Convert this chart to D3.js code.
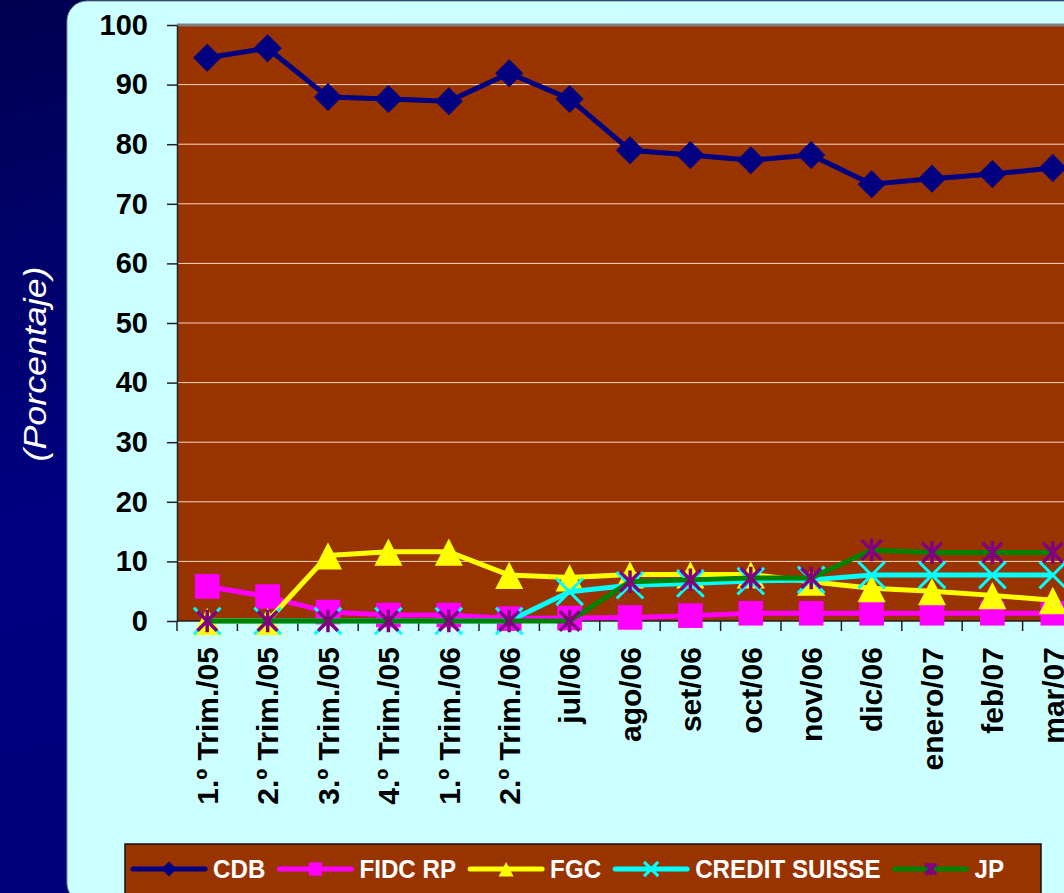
<!DOCTYPE html>
<meta charset="utf-8">
<script src="https://d3js.org/d3.v7.min.js"></script>
<style>
  body { margin: 0; overflow: hidden; }
</style>
<div id="viz"></div>
<script>

var categories = ["1.º Trim./05", "2.º Trim./05", "3.º Trim./05", "4.º Trim./05",
  "1.º Trim./06", "2.º Trim./06", "jul/06", "ago/06", "set/06", "oct/06",
  "nov/06", "dic/06", "enero/07", "feb/07", "mar/07"];

var cdb  = [94.5, 96.1, 87.9, 87.6, 87.2, 91.9, 87.6, 79.0, 78.2, 77.3, 78.2, 73.3, 74.2, 75.0, 76.0];
var fidc = [5.8, 4.1, 1.5, 1.0, 1.0, 0.4, 0.5, 0.6, 0.9, 1.3, 1.3, 1.3, 1.3, 1.3, 1.3];
var fgc  = [0, 0, 11.0, 11.6, 11.6, 7.7, 7.3, 7.8, 7.8, 7.8, 6.6, 5.5, 5.0, 4.3, 3.5];
var cs   = [0, 0, 0, 0, 0, 0, 4.9, 6.0, 6.3, 6.7, 6.9, 7.7, 7.7, 7.7, 7.7];
var jp   = [0, 0, 0, 0, 0, 0, 0, 6.6, 6.9, 7.2, 7.2, 11.9, 11.5, 11.5, 11.5];

var yTicks = [0, 10, 20, 30, 40, 50, 60, 70, 80, 90, 100];

var series = [
  {name: "CDB", values: cdb, line: "#000080", marker: "diamond", mcolor: "#000080"},
  {name: "FIDC RP", values: fidc, line: "#ff00ff", marker: "square", mcolor: "#ff00ff"},
  {name: "FGC", values: fgc, line: "#ffff00", marker: "triangle", mcolor: "#ffff00"},
  {name: "CREDIT SUISSE", values: cs, line: "#00ffff", marker: "cross", mcolor: "#00ffff"},
  {name: "JP", values: jp, line: "#008000", marker: "star", mcolor: "#800080"}
];

var W = 1064, H = 893;
var plot = {left: 177, top: 25, right: 1083, bottom: 621};

var svg = d3.select("#viz").append("svg")
  .attr("width", W).attr("height", H);

// navy background
var defs = svg.append("defs");
var bg = defs.append("linearGradient").attr("id", "navy")
  .attr("x1", 0).attr("y1", 0).attr("x2", 0.3).attr("y2", 1);
bg.append("stop").attr("offset", "0").attr("stop-color", "#000052");
bg.append("stop").attr("offset", "0.55").attr("stop-color", "#000082");
bg.append("stop").attr("offset", "1").attr("stop-color", "#000078");
svg.append("rect").attr("width", W).attr("height", H).style("fill", "url(#navy)");

// light panel
svg.append("rect")
  .attr("x", 67).attr("y", 1)
  .attr("width", 1100).attr("height", 902)
  .attr("rx", 20)
  .style("fill", "#ccffff")
  .style("stroke", "#6f9090")
  .style("stroke-width", 1);

svg.append("text")
  .attr("transform", "translate(46,364) rotate(-90)")
  .attr("text-anchor", "middle")
  .attr("textLength", 195)
  .attr("lengthAdjust", "spacingAndGlyphs")
  .style("font-family", "Liberation Sans, Arial, sans-serif")
  .style("font-style", "italic")
  .style("font-size", "31px")
  .style("fill", "white")
  .text("(Porcentaje)");

var x = d3.scaleBand().domain(categories).range([plot.left, plot.right]).padding(0);
var y = d3.scaleLinear().domain([0, 100]).range([plot.bottom, plot.top]);
var cx = function (c) { return x(c) + x.bandwidth() / 2; };

svg.append("rect")
  .attr("x", plot.left).attr("y", plot.top)
  .attr("width", plot.right - plot.left).attr("height", plot.bottom - plot.top)
  .style("fill", "#993300");

// gridlines
svg.append("g").selectAll("line")
  .data(yTicks.filter(function (d) { return d > 0 && d < 100; }))
  .enter().append("line")
    .attr("x1", plot.left).attr("x2", plot.right)
    .attr("y1", function (d) { return y(d); })
    .attr("y2", function (d) { return y(d); })
    .style("stroke", "#ffd8c0").style("stroke-width", 1);
svg.append("line")
  .attr("x1", plot.left).attr("x2", plot.right)
  .attr("y1", y(100)).attr("y2", y(100))
  .style("stroke", "#808080").style("stroke-width", 3);

// y axis
var yAxis = svg.append("g")
  .attr("transform", "translate(" + plot.left + ",0)")
  .call(d3.axisLeft(y).tickValues(yTicks).tickSize(10).tickPadding(19).tickSizeOuter(0));
yAxis.select(".domain").style("stroke", "#222").style("stroke-width", 1.5);
yAxis.selectAll(".tick line").style("stroke", "#222").style("stroke-width", 1.5);
yAxis.selectAll("text")
  .style("font-family", "Liberation Sans, Arial, sans-serif")
  .style("font-weight", "bold").style("font-size", "29px").style("fill", "#000");

// x axis line + ticks between categories
svg.append("line")
  .attr("x1", plot.left).attr("x2", plot.right)
  .attr("y1", plot.bottom).attr("y2", plot.bottom)
  .style("stroke", "#222").style("stroke-width", 1.5);
svg.append("g").selectAll("line")
  .data(categories)
  .enter().append("line")
    .attr("x1", function (d) { return x(d); })
    .attr("x2", function (d) { return x(d); })
    .attr("y1", plot.bottom).attr("y2", plot.bottom + 10)
    .style("stroke", "#222").style("stroke-width", 1.5);

svg.append("g").selectAll("text")
  .data(categories)
  .enter().append("text")
    .attr("transform", function (d) { return "translate(" + cx(d) + ",647) rotate(-90)"; })
    .attr("text-anchor", "end")
    .attr("dy", "0.36em")
    .style("font-family", "Liberation Sans, Arial, sans-serif")
    .style("font-weight", "bold").style("font-size", "30px").style("fill", "#000")
    .text(function (d) { return d; });

function drawMarker(g, type, color, s) {
  if (type === "diamond") {
    g.append("path").attr("d", "M0," + (-s) + "L" + s + ",0L0," + s + "L" + (-s) + ",0Z")
      .style("fill", color);
  } else if (type === "square") {
    var h = s * 0.88;
    g.append("rect").attr("x", -h).attr("y", -h).attr("width", 2 * h).attr("height", 2 * h)
      .style("fill", color);
  } else if (type === "triangle") {
    g.append("path").attr("d", "M0," + (-s * 0.95) + "L" + s + "," + s + "L" + (-s) + "," + s + "Z")
      .style("fill", color);
  } else if (type === "cross") {
    var c = s * 0.95;
    g.append("path").attr("d", "M" + (-c) + "," + (-c) + "L" + c + "," + c + "M" + c + "," + (-c) + "L" + (-c) + "," + c)
      .style("stroke", color).style("stroke-width", 3).style("fill", "none");
  } else if (type === "star") {
    var a = s * 0.7;
    g.append("path").attr("d", "M" + (-a) + "," + (-a) + "L" + a + "," + a + "M" + a + "," + (-a) + "L" + (-a) + "," + a +
        "M0," + (-a * 1.15) + "L0," + (a * 1.15))
      .style("stroke", color).style("stroke-width", 3.5).style("fill", "none");
  }
}

var line = d3.line()
  .x(function (d, i) { return cx(categories[i]); })
  .y(function (d) { return y(d); });

series.forEach(function (s) {
  var g = svg.append("g");
  g.append("path").datum(s.values)
    .attr("d", line)
    .style("fill", "none").style("stroke", s.line).style("stroke-width", 5)
    .style("stroke-linejoin", "round");
  s.values.forEach(function (v, i) {
    var m = g.append("g").attr("transform", "translate(" + cx(categories[i]) + "," + y(v) + ")");
    drawMarker(m, s.marker, s.mcolor, 14);
  });
});

// legend
var leg = svg.append("g");
leg.append("rect")
  .attr("x", 125).attr("y", 844).attr("width", 916).attr("height", 70)
  .style("fill", "#993300").style("stroke", "#111").style("stroke-width", 1.5);

var lx = 133, ly = 869;
series.forEach(function (s) {
  leg.append("line")
    .attr("x1", lx).attr("x2", lx + 72).attr("y1", ly).attr("y2", ly)
    .style("stroke", s.line).style("stroke-width", 5).style("stroke-linecap", "round");
  var m = leg.append("g").attr("transform", "translate(" + (lx + 36) + "," + ly + ")");
  drawMarker(m, s.marker, s.mcolor, 7.5);
  var t = leg.append("text")
    .attr("x", lx + 80).attr("y", ly).attr("dy", "0.36em")
    .style("font-family", "Liberation Sans, Arial, sans-serif")
    .style("font-weight", "bold").style("font-size", "26px").style("fill", "white")
    .text(s.name);
  var w = t.node().getComputedTextLength() * 0.93;
  t.attr("textLength", w).attr("lengthAdjust", "spacingAndGlyphs");
  lx = lx + 80 + w + 14;
});

</script>
